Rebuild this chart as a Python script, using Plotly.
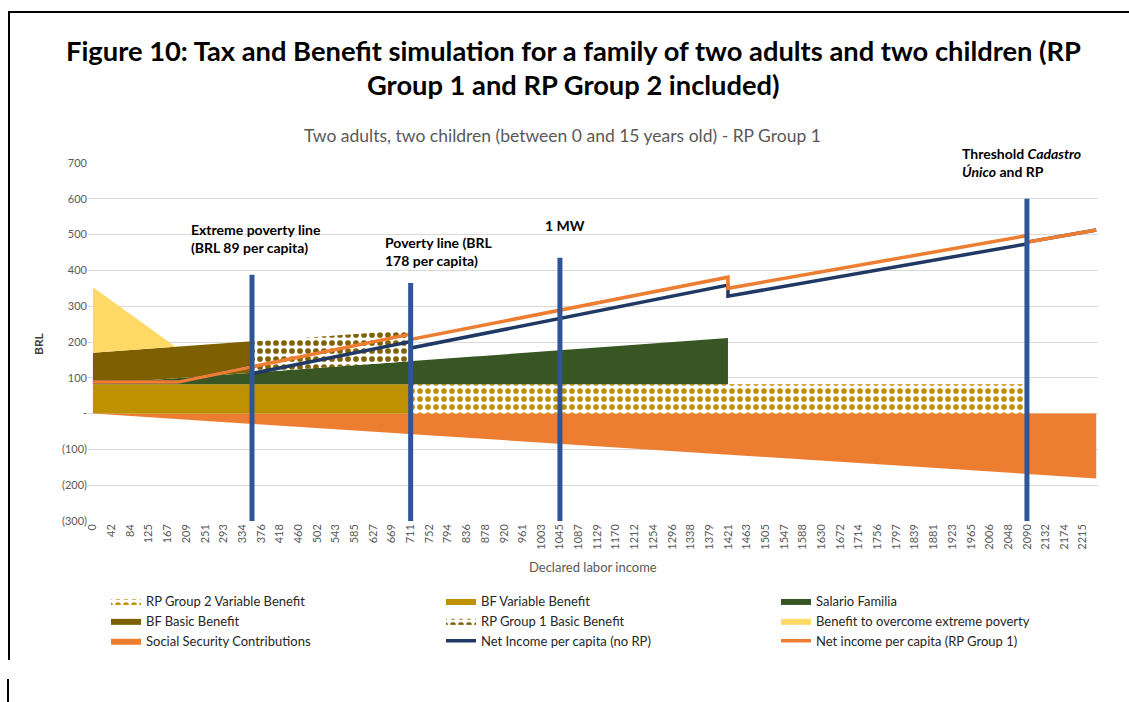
import numpy as np
import plotly.graph_objects as go

# ---------------- data ----------------
x_tick_labels = [0, 42, 84, 125, 167, 209, 251, 293, 334, 376, 418, 460, 502, 543, 585, 627,
                 669, 711, 752, 794, 836, 878, 920, 961, 1003, 1045, 1087, 1129, 1170, 1212,
                 1254, 1296, 1338, 1379, 1421, 1463, 1505, 1547, 1588, 1630, 1672, 1714, 1756,
                 1797, 1839, 1881, 1923, 1965, 2006, 2048, 2090, 2132, 2174, 2215]
y_tick_vals = [-300, -200, -100, 0, 100, 200, 300, 400, 500, 600, 700]
y_tick_text = ["(300)", "(200)", "(100)", "-", "100", "200", "300", "400", "500", "600", "700"]

bf_variable_x = [0, 711]
bf_variable = [82, 82]
rp2_variable_x = [711, 2090]
rp2_variable = [82, 82]
salario_x = [0, 1421]
salario = [0, 129]
bf_basic_x = [0, 356]
bf_basic = [88, 88]
rp1_basic_x = [356, 711]
rp1_basic = [87, 87]
extreme_x = [0, 185]
extreme = [183, 0]
ssc_x = [0, 2245]
ssc = [0, -181]

net_norp_x = [0, 190, 356, 356, 711, 711, 1421, 1421, 2090, 2090, 2245]
net_norp = [88, 88, 131, 112, 201, 183, 359, 328, 474, 479, 513]
net_rp1_x = [0, 190, 711, 711, 1421, 1421, 2090, 2090, 2245]
net_rp1 = [88, 88, 222, 207, 381, 350, 497, 479, 513]

vline_x = [356, 711, 1045, 2090]
vline_top = [388, 365, 435, 600]
y_floor = -300

# ---------------- styling ----------------
FONT = "Lato"
C_GOLD = "#BF9000"
C_GREEN = "#375623"
C_BROWN = "#7F6000"
C_YELLOW = "#FFD966"
C_ORANGE = "#ED7D31"
C_NAVY = "#1F3864"
C_VLINE = "#2F5597"
C_GRID = "#D9D9D9"
C_TICK = "#595959"

W, H = 1129, 702
L, R, T, B = 88, 31, 163, 181
PW, PH = W - L - R, H - T - B


def px_x(px):
    return (px - L) / PW


def px_y(py):
    return (H - B - py) / PH


def seg(xb, vb, xs):
    """piecewise-linear series value, 0 outside its domain"""
    xb = np.asarray(xb, float)
    out = np.interp(xs, xb, vb)
    out[(xs < xb.min()) | (xs > xb.max())] = 0.0
    return out


def band(xb, lo_fn, hi_fn, n=300):
    xs = np.linspace(min(xb), max(xb), n)
    lo = lo_fn(xs)
    hi = hi_fn(xs)
    return list(xs) + list(xs[::-1]), list(hi) + list(lo[::-1])


def var_level(xs):
    return np.maximum(seg(bf_variable_x, bf_variable, xs), seg(rp2_variable_x, rp2_variable, xs))


def sf_top(xs):
    return var_level(xs) + seg(salario_x, salario, xs)


fig = go.Figure()


def add_area(name, xy, color, rank, pattern=None):
    xx, yy = xy
    kw = dict(fillcolor=color)
    if pattern is not None:
        kw = dict(fillcolor="white",
                  fillpattern=dict(shape=".", fgcolor=pattern, bgcolor="white", fgopacity=1,
                                   size=8, solidity=0.4))
    fig.add_trace(go.Scatter(x=xx, y=yy, fill="toself", mode="lines",
                             line=dict(width=0, color=pattern or color),
                             name=name, legendrank=rank, hoverinfo="skip", **kw))


zero = lambda xs: np.zeros_like(xs)

add_area("Social Security Contributions",
         band(ssc_x, lambda xs: seg(ssc_x, ssc, xs), zero), C_ORANGE, 7)
add_area("BF Variable Benefit",
         band(bf_variable_x, zero, lambda xs: seg(bf_variable_x, bf_variable, xs)), C_GOLD, 2)
add_area("RP Group 2 Variable Benefit",
         band(rp2_variable_x, zero, lambda xs: seg(rp2_variable_x, rp2_variable, xs)), C_GOLD, 1,
         pattern=C_GOLD)
add_area("Salario Familia",
         band(salario_x, var_level, sf_top), C_GREEN, 3)
add_area("BF Basic Benefit",
         band(bf_basic_x, sf_top, lambda xs: sf_top(xs) + seg(bf_basic_x, bf_basic, xs)), C_BROWN, 4)
add_area("RP Group 1 Basic Benefit",
         band(rp1_basic_x, sf_top, lambda xs: sf_top(xs) + seg(rp1_basic_x, rp1_basic, xs)), C_BROWN, 5,
         pattern=C_BROWN)
add_area("Benefit to overcome extreme poverty",
         band(extreme_x, lambda xs: sf_top(xs) + seg(bf_basic_x, bf_basic, xs),
              lambda xs: sf_top(xs) + seg(bf_basic_x, bf_basic, xs) + seg(extreme_x, extreme, xs)),
         C_YELLOW, 6)

fig.add_trace(go.Scatter(x=net_norp_x, y=net_norp, mode="lines", name="Net Income per capita (no RP)",
                         line=dict(color=C_NAVY, width=3.5), legendrank=8, hoverinfo="skip"))
fig.add_trace(go.Scatter(x=net_rp1_x, y=net_rp1, mode="lines", name="Net income per capita (RP Group 1)",
                         line=dict(color=C_ORANGE, width=3.5), legendrank=9, hoverinfo="skip"))

for vx, vt in zip(vline_x, vline_top):
    fig.add_trace(go.Scatter(x=[vx, vx], y=[y_floor, vt], mode="lines", showlegend=False,
                             line=dict(color=C_VLINE, width=5), hoverinfo="skip"))

x_lo = -11
x_hi = 2249

annotations = [
    dict(text="<b>Figure 10: Tax and Benefit simulation for a family of two adults and two children (RP</b>",
         x=px_x(573), y=px_y(50), font=dict(size=27.3, color="black")),
    dict(text="<b>Group 1 and RP Group 2 included)</b>",
         x=px_x(573), y=px_y(84), font=dict(size=27.3, color="black")),
    dict(text="Two adults, two children (between 0 and 15 years old) - RP Group 1",
         x=px_x(562), y=px_y(135), font=dict(size=17.5, color=C_TICK)),
    dict(text="<b>BRL</b>", x=px_x(38), y=px_y(344), textangle=-90,
         font=dict(size=12, color="#404040")),
    dict(text="Declared labor income", x=px_x(593), y=px_y(567),
         font=dict(size=13, color=C_TICK)),
    dict(text="<b>Threshold <i>Cadastro</i><br><i>Único</i> and RP</b>", x=px_x(960), y=px_y(162),
         xanchor="left", align="left", font=dict(size=14, color="black")),
]
for a in annotations:
    a.setdefault("xanchor", "center")
    a.update(xref="paper", yref="paper", showarrow=False, yanchor="middle")

data_notes = [
    dict(text="<b>Extreme poverty line<br>(BRL 89 per capita)</b>", x=215, y=489),
    dict(text="<b>Poverty line (BRL<br>178 per capita)</b>", x=649, y=453),
    dict(text="<b>1 MW</b>", x=1007, y=526),
]
for a in data_notes:
    a.update(xref="x", yref="y", showarrow=False, xanchor="left", yanchor="middle", align="left",
             font=dict(size=14, color="black"))
    annotations.append(a)

shapes = [
    dict(type="line", xref="paper", yref="paper", x0=px_x(8), x1=px_x(1129), y0=px_y(12), y1=px_y(12),
         line=dict(color="black", width=2)),
    dict(type="line", xref="paper", yref="paper", x0=px_x(9), x1=px_x(9), y0=px_y(12), y1=px_y(660),
         line=dict(color="black", width=2)),
    dict(type="line", xref="paper", yref="paper", x0=px_x(8), x1=px_x(8), y0=px_y(679), y1=px_y(702),
         line=dict(color="black", width=2)),
]

fig.update_layout(
    width=W, height=H,
    margin=dict(l=L, r=R, t=T, b=B, autoexpand=False),
    paper_bgcolor="white", plot_bgcolor="white",
    font=dict(family=FONT, color=C_TICK),
    showlegend=True,
    legend=dict(orientation="h", x=px_x(106), y=px_y(586), xanchor="left", yanchor="top",
                entrywidth=290, entrywidthmode="pixels", itemwidth=30,
                font=dict(size=13, color="#262626"), bgcolor="rgba(0,0,0,0)", tracegroupgap=0),
    xaxis=dict(range=[x_lo, x_hi], tickvals=x_tick_labels, ticktext=[str(v) for v in x_tick_labels],
               tickangle=-90, tickfont=dict(size=11, color=C_TICK), showgrid=False, zeroline=False,
               showline=False, ticks=""),
    yaxis=dict(range=[-300, 700], tickvals=y_tick_vals, ticktext=y_tick_text,
               tickfont=dict(size=11, color=C_TICK), showgrid=True, gridcolor=C_GRID, gridwidth=1,
               zeroline=False, showline=False, ticks=""),
    annotations=annotations,
    shapes=shapes,
)

fig.write_html("out.html")
